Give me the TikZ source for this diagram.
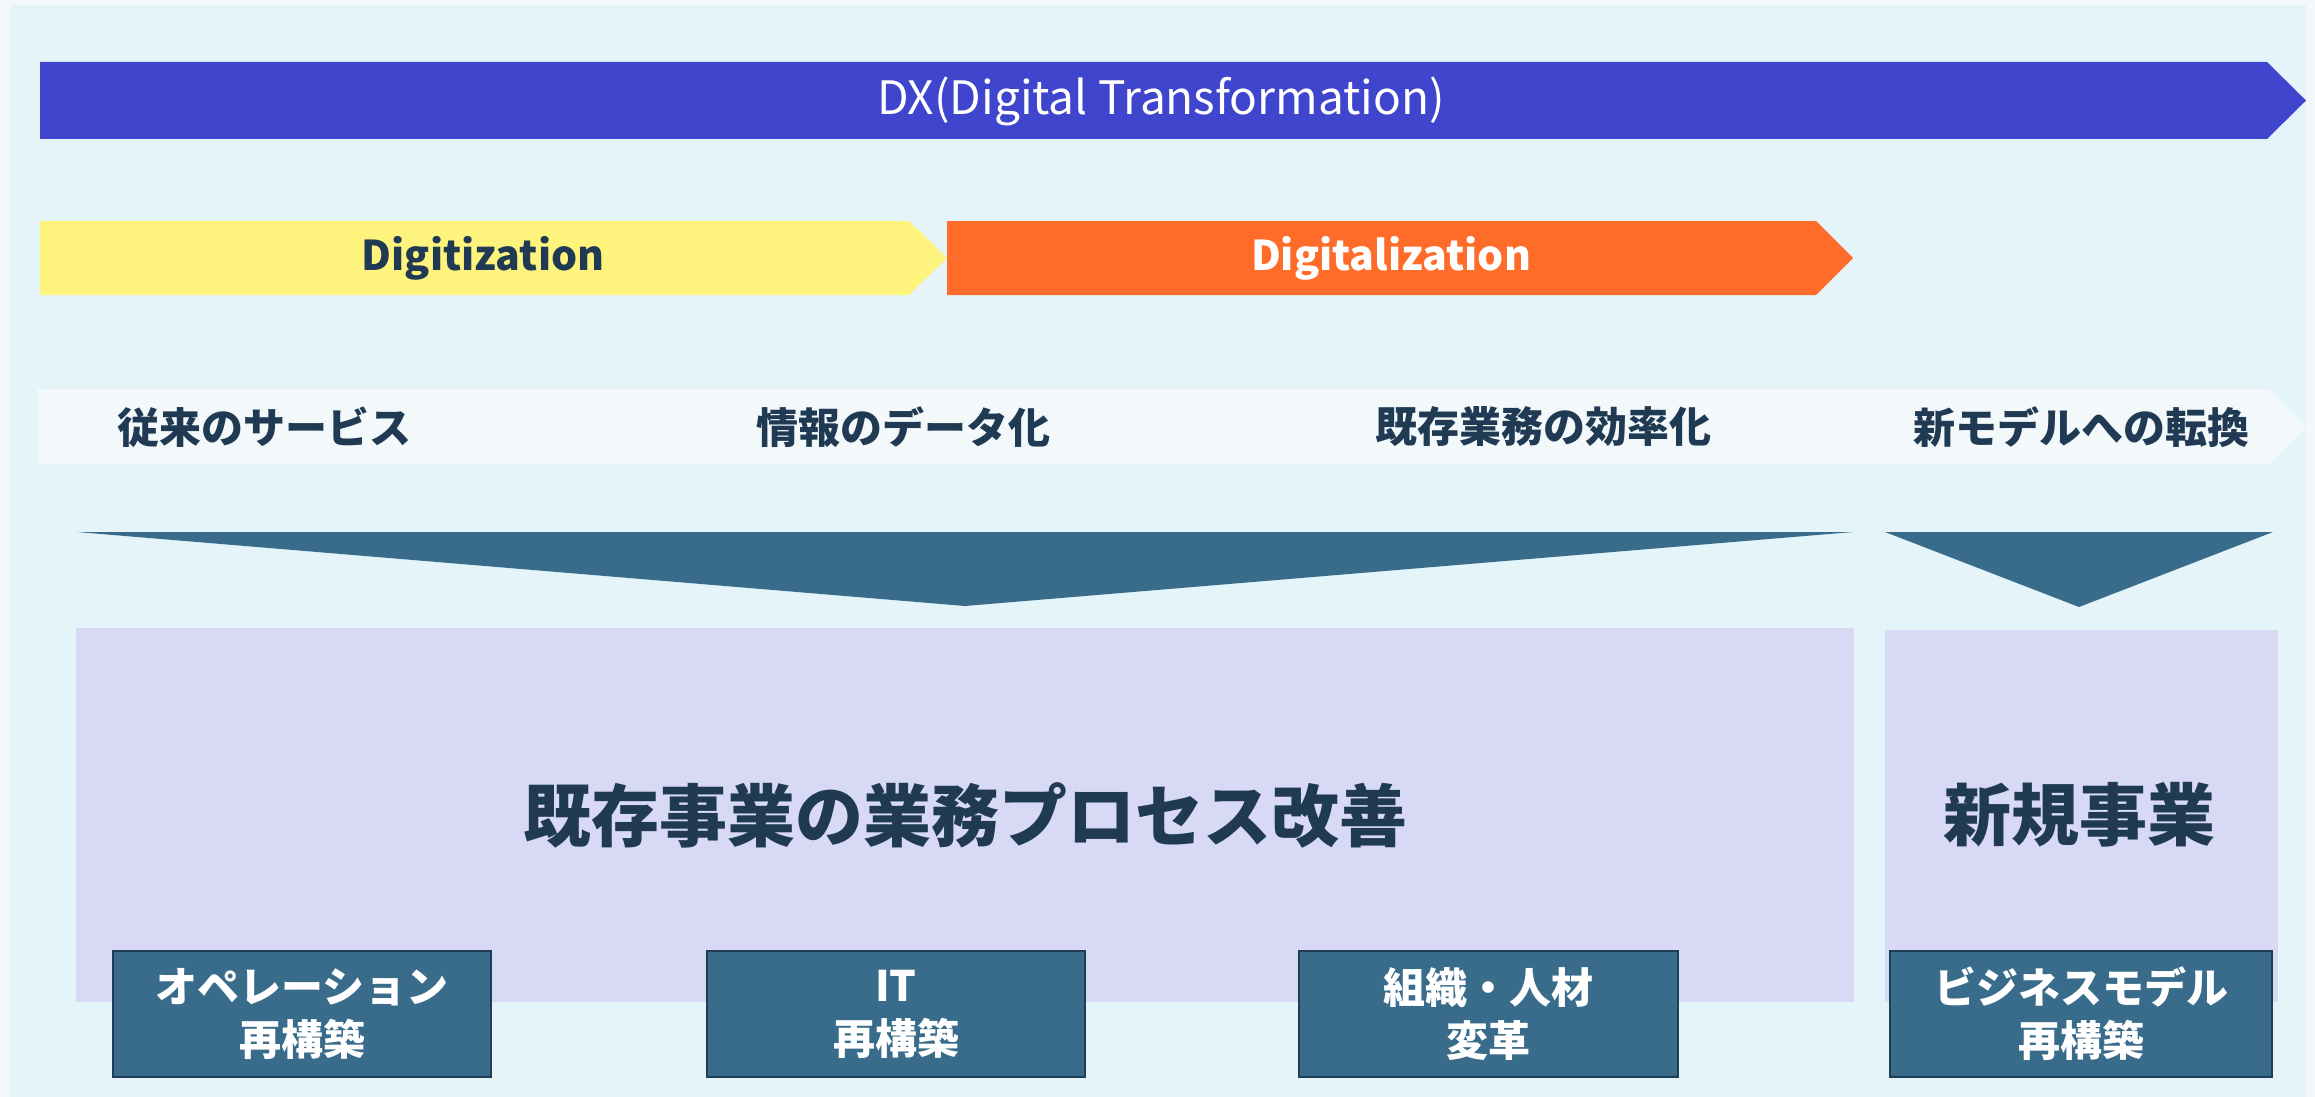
\documentclass[tikz,border=0pt]{standalone}
\usepackage{fontspec}
\setmainfont{Noto Sans CJK JP}
\definecolor{frame}{HTML}{F3F8FA}
\definecolor{bgblue}{HTML}{E4F4F9}
\definecolor{dxblue}{HTML}{4045CD}
\definecolor{yel}{HTML}{FEF47D}
\definecolor{ora}{HTML}{FF6B28}
\definecolor{band}{HTML}{F3F9FB}
\definecolor{teal}{HTML}{386C8A}
\definecolor{lav}{HTML}{D8D9F4}
\definecolor{navy}{HTML}{1F3A52}
\definecolor{boxline}{HTML}{1F3D55}
\tikzset{
  labtxt/.style={text=navy,font=\bfseries\fontsize{42}{50}\selectfont,inner sep=0pt},
  bigtxt/.style={text=navy,font=\bfseries\fontsize{68}{80}\selectfont,inner sep=0pt},
  phasetxt/.style={font=\bfseries\fontsize{41}{48}\selectfont,inner sep=0pt},
  subbox/.style={fill=teal,draw=boxline,line width=2pt,text=white,
    font=\bfseries\fontsize{42}{53}\selectfont,align=center,inner sep=0pt},
}
\begin{document}
\begin{tikzpicture}[x=1pt,y=-1pt]
\useasboundingbox (0,0) rectangle (2315,1097);
\fill[frame] (0,0) rectangle (2315,1097);
\fill[bgblue] (10,5) rectangle (2306,1097);
% DX arrow
\fill[dxblue] (40,62) -- (2267,62) -- (2306,100.5) -- (2267,139) -- (40,139) -- cycle;
\node[text=white,font=\fontsize{46}{54}\selectfont,inner sep=0pt] (dx) at (1161,101) {DX(Digital Transformation)};
% phases
\fill[yel] (40,221) -- (909,221) -- (947,258) -- (909,295) -- (40,295) -- cycle;
\fill[ora] (947,221) -- (1816,221) -- (1853,258) -- (1816,295) -- (947,295) -- cycle;
\node[phasetxt,text=navy] (digitization) at (483,258) {Digitization};
\node[phasetxt,text=white] (digitalization) at (1391,258) {Digitalization};
% band
\fill[band] (38,389) -- (2269,389) -- (2306,426.5) -- (2269,464) -- (38,464) -- cycle;
\node[labtxt] (l1) at (264,427) {従来のサービス};
\node[labtxt] (l2) at (903,427) {情報のデータ化};
\node[labtxt] (l3) at (1543,427) {既存業務の効率化};
\node[labtxt] (l4) at (2081,427) {新モデルへの転換};
% triangles
\fill[teal] (77,532) -- (1853,532) -- (965,606) -- cycle;
\fill[teal] (1885,532) -- (2273,532) -- (2079,607) -- cycle;
% lavender areas
\fill[lav] (76,628) rectangle (1854,1002);
\fill[lav] (1885,630) rectangle (2278,1002);
\node[bigtxt] (exist) at (965,815) {既存事業の業務プロセス改善};
\node[bigtxt] (newbiz) at (2079,815) {新規事業};
% sub boxes
\node[subbox,minimum width=378pt,minimum height=126pt] (b1) at (302,1014) {オペレーション\\再構築};
\node[subbox,minimum width=378pt,minimum height=126pt] (b2) at (896,1014) {IT\\再構築};
\node[subbox,minimum width=379pt,minimum height=126pt] (b3) at (1488.5,1014) {組織・人材\\変革};
\node[subbox,minimum width=382pt,minimum height=126pt] (b4) at (2081,1014) {ビジネスモデル\\再構築};
\end{tikzpicture}
\end{document}
